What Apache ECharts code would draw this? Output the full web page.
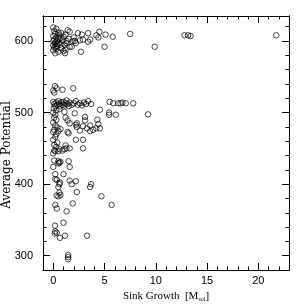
<!DOCTYPE html>
<html><head><meta charset="utf-8">
<script src="https://cdn.jsdelivr.net/npm/echarts@6/dist/echarts.min.js"></script>
<style>html,body{margin:0;padding:0;background:#fff}#c{width:304px;height:304px}</style>
</head><body><div id="c"></div>
<script>
// Sink growth [M_sol] (x) and average potential (y)
const sinkGrowth = [
 0.0,0.1,0.2,0.0,0.3,0.1,0.0,0.2,0.4,0.0,0.1,0.3,0.0,0.5,0.2,0.6,0.5,0.7,0.8,0.9,0.6,0.4,0.8,1.0,1.15,1.0,1.2,1.4,1.6,1.3,1.3,1.1,1.6,1.8,1.5,1.9,2.1,2.0,2.4,2.8,2.6,2.9,2.2,2.7,3.4,3.6,3.4,4.2,4.5,4.4,5.1,5.8,7.5,5.0,9.9,12.8,13.15,13.4,21.75,0.3,0.15,0.35,0.5,0.25,0.7,1.2,
 0.17,0.33,0.0,0.1,0.9,1.95,
 0.0,0.1,0.2,0.3,0.4,0.5,0.6,0.7,0.8,0.9,1.0,1.1,1.2,1.3,1.4,1.5,1.6,1.8,2.0,2.2,2.4,2.6,2.8,3.0,3.2,3.4,3.7,0.05,0.3,0.6,
 4.55,5.5,5.86,6.33,6.56,6.75,7.08,7.8,5.45,5.45,6.1,9.25,4.55,
 0.0,0.2,0.1,0.3,0.0,0.2,0.4,0.1,0.0,0.3,0.5,0.7,0.2,0.0,0.4,0.1,0.3,0.6,0.2,0.9,0.0,
 1.1,1.2,1.4,1.6,2.1,1.4,1.5,
 3.1,3.1,2.9,2.6,2.3,2.3,2.2,3.3,3.6,3.9,4.2,4.4,4.3,3.6,2.9,2.2,2.9,1.2,1.3,
 0.1,0.5,1.6,1.1,0.1,0.5,0.6,0.7,0.5,1.5,1.6,0.0,1.0,0.2,0.2,0.35,0.65,0.6,1.6,1.8,2.2,0.5,0.6,0.7,0.5,0.33,2.3,3.6,3.7,4.7,5.7,1.9,0.2,0.35,1.3,1.0,0.17,0.2,0.35,0.15,1.15,0.65,3.3,1.46,1.46,1.46
];
const avgPotential = [
 619,614,610,607,605,602,600,598,596,594,591,589,587,585,583,608,612,604,611,601,598,593,590,586,583,606,609,615,613,600,597,595,592,592,603,600,600,605,611,609,601,602,597,585,611,602,599,608,613,605,609,606,610,592,592,608,608,607,608,617,596,600,603,592,595,588,
 537,534,531,528,532,534,
 515,512,509,514,511,516,512,509,514,511,515,510,513,517,512,509,514,511,513,516,511,513,510,514,512,516,512,506,503,505,
 504,515,513,513,513,514,513,513,500,497,497,497.5,478,
 500,497,493,490,486,482,479,476,473,470,474,477,466,462,458,455,452,449,446,447,443,
 501,493,489,485,499,473,471,
 494,489,481,475,485,480,483,478,474,476,478,484,490,482,462,462,450,454,450,
 447,446,450,449,433,432,430,431,429,432,424,424,414,414,407,406,402,400,405,400,404,396,388,385,383,384,389,396,400,383,371,373,371,366,362,346,342,334,332,331,328,325,328,301,298,295
];
const xMajorTicks = [0,5,10,15,20];
const xMinorTicks = [1,2,3,4,6,7,8,9,11,12,13,14,16,17,18,19,21,22];
const yMajorTicks = [300,400,500,600];
const yMinorTicks = [280,320,340,360,380,420,440,460,480,520,540,560,580,620];

const pts = sinkGrowth.map((x,i)=>[x, avgPotential[i]]);
const XMIN=-1, XMAX=23, YMIN=280, YMAX=635;
const lbl = {fontFamily:'Liberation Sans, Arial, sans-serif', fontSize:11, color:'#000'};
const ttl = {fontFamily:'Liberation Serif, Times New Roman, serif', fontSize:11, color:'#000'};
function xa(pos, ticks, len, labels, extra){
  return Object.assign({type:'value', position:pos, min:XMIN, max:XMAX, gridIndex:0,
    axisLine:{show:true, onZero:false, lineStyle:{color:'#000', width:1}},
    axisTick:{show:true, inside:true, length:len, customValues:ticks, lineStyle:{color:'#000', width:1}},
    axisLabel:labels?Object.assign({show:true, customValues:ticks, margin:5}, lbl):{show:false},
    splitLine:{show:false}}, extra||{});
}
function ya(pos, ticks, len, labels, extra){
  return Object.assign({type:'value', position:pos, min:YMIN, max:YMAX, gridIndex:0,
    axisLine:{show:true, onZero:false, lineStyle:{color:'#000', width:1}},
    axisTick:{show:true, inside:true, length:len, customValues:ticks, lineStyle:{color:'#000', width:1}},
    axisLabel:labels?Object.assign({show:true, customValues:ticks, margin:10}, lbl):{show:false},
    splitLine:{show:false}}, extra||{});
}
const chart = echarts.init(document.getElementById('c'), null, {renderer:'canvas'});
chart.setOption({
  animation:false,
  backgroundColor:'#fff',
  grid:{left:43, right:15, top:16, bottom:34, outerBoundsMode:'none', containLabel:false},
  xAxis:[
    xa('bottom', xMajorTicks, 7, true, {name:'Sink Growth  [M{sub|sol}]', nameLocation:'middle', nameGap:21, nameMoveOverlap:false,
      nameTextStyle:Object.assign({rich:{sub:{fontFamily:'Liberation Serif, serif', fontSize:6, verticalAlign:'bottom', padding:[5,0,0,0]}}}, ttl)}),
    xa('bottom', xMinorTicks, 3.5, false),
    xa('top', xMajorTicks, 7, false),
    xa('top', xMinorTicks, 3.5, false)
  ],
  yAxis:[
    ya('left', yMajorTicks, 7, true, {name:'Average Potential{pad|}', nameLocation:'middle', nameGap:30, nameMoveOverlap:false,
      nameTextStyle:{fontFamily:'DejaVu Serif, serif', fontSize:12, color:'#000', rich:{pad:{width:24}}}}),
    ya('left', yMinorTicks, 3.5, false),
    ya('right', yMajorTicks, 7, false),
    ya('right', yMinorTicks, 3.5, false)
  ],
  series:[{
    type:'scatter', xAxisIndex:0, yAxisIndex:0, data:pts,
    symbol:'circle', symbolSize:5.5,
    itemStyle:{color:'rgba(0,0,0,0)', borderColor:'#000', borderWidth:0.9}
  }]
});
</script></body></html>
